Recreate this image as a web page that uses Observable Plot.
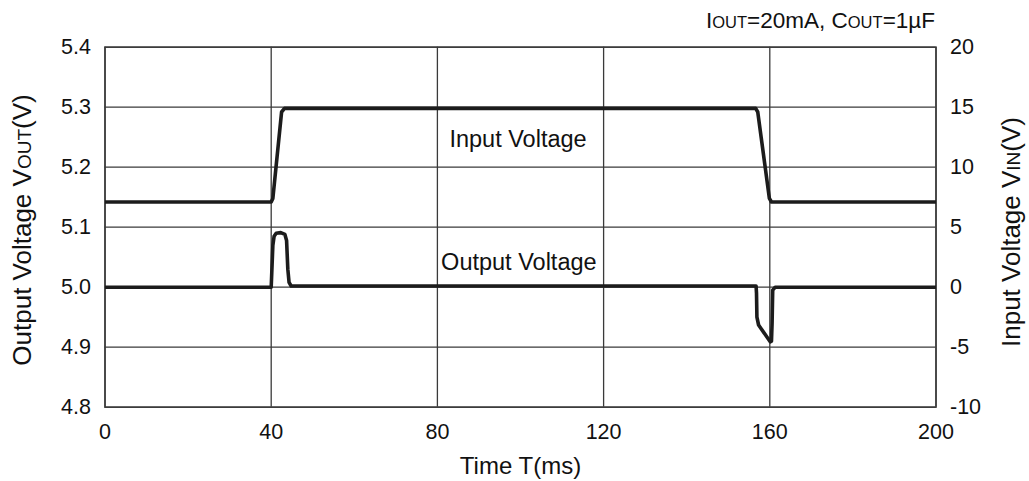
<!DOCTYPE html>
<html>
<head>
<meta charset="utf-8">
<script src="https://cdn.jsdelivr.net/npm/d3@7"></script>
<script src="https://cdn.jsdelivr.net/npm/@observablehq/plot@0.6"></script>
<style>
  html, body { margin: 0; padding: 0; background: #fff; }
  #chart { width: 1029px; height: 481px; }
  svg { font-family: "Liberation Sans", Arial, sans-serif; }
</style>
</head>
<body>
<div id="chart"></div>
<script>
// ---- Data ----
// Input voltage VIN (V) vs time (ms)
const inTime = [0, 40, 40.4, 42.5, 43.2, 156.6, 157.1, 159.9, 160.4, 200];
const inVolt = [7.1, 7.1, 7.4, 14.6, 14.9, 14.9, 14.6, 7.4, 7.1, 7.1];

// Output voltage VOUT (V) vs time (ms)
const outTime = [0, 40, 40.4, 40.7, 41.2, 42.3, 43.3, 43.7, 44.0, 44.3, 44.8, 156.7, 156.8, 156.9, 157.3, 160.1, 160.4, 160.55, 160.7, 161.3, 200];
const outVolt = [5.0, 5.0, 5.07, 5.085, 5.09, 5.091, 5.088, 5.078, 5.03, 5.008, 5.002, 5.002, 4.99, 4.95, 4.937, 4.909, 4.91, 4.94, 4.995, 5.0, 5.0];

// Axis ticks
const xTicks = [0, 40, 80, 120, 160, 200];
const yTicks = [4.8, 4.9, 5.0, 5.1, 5.2, 5.3, 5.4];
const vinTickLabels = [-10, -5, 0, 5, 10, 15, 20];

// Labels
const annotations = [
  {t: 99.4, v: 5.2467, text: "Input Voltage"},
  {t: 99.6, v: 5.0417, text: "Output Voltage"}
];

// VIN maps onto VOUT axis: VOUT = 5.0 + VIN/50
const vinToY = v => 5.0 + v / 50;

const inData = inTime.map((t, i) => ({t, vin: inVolt[i]}));
const outData = outTime.map((t, i) => ({t, vout: outVolt[i]}));

const ink = "#1c1c1c";
const gridColor = "#3a3a3a";

const chart = Plot.plot({
  width: 1029,
  height: 481,
  marginLeft: 104.5,
  marginRight: 93.5,
  marginTop: 46.7,
  marginBottom: 74.3,
  style: {fontFamily: "'Liberation Sans', Arial, sans-serif", background: "#fff", color: "#111"},
  x: {domain: [0, 200], ticks: xTicks},
  y: {domain: [4.8, 5.4], ticks: yTicks},
  marks: [
    Plot.gridX(xTicks, {stroke: gridColor, strokeOpacity: 1, strokeWidth: 1.3}),
    Plot.gridY(yTicks, {stroke: gridColor, strokeOpacity: 1, strokeWidth: 1.3}),
    Plot.frame({stroke: gridColor, strokeWidth: 1.5}),
    Plot.axisX({ticks: xTicks, tickSize: 0, tickPadding: 17, fontSize: 21.5, label: null, tickFormat: d => String(d)}),
    Plot.axisY({anchor: "left", ticks: yTicks, tickSize: 0, tickPadding: 14, fontSize: 21.5, label: null, tickFormat: d3.format(".1f")}),
    Plot.axisY({anchor: "right", ticks: yTicks, tickSize: 0, tickPadding: 14, fontSize: 21.5, label: null,
      tickFormat: (d, i) => String(vinTickLabels[i])}),
    Plot.line(inData, {x: "t", y: d => vinToY(d.vin), stroke: ink, strokeWidth: 3.6, strokeLinejoin: "round", strokeLinecap: "butt"}),
    Plot.line(outData, {x: "t", y: "vout", stroke: ink, strokeWidth: 3.6, strokeLinejoin: "round", strokeLinecap: "butt"}),
    Plot.text(annotations, {x: "t", y: "v", text: "text", fontSize: 23.5, fill: "#111", lineAnchor: "middle"}),
    Plot.text(["Time T(ms)"], {frameAnchor: "bottom", dy: 59.5, fontSize: 24, fill: "#111", lineAnchor: "middle"})
  ]
});

document.getElementById("chart").appendChild(chart);

// Labels with small-caps style subscripts
const svg = d3.select(chart);
function richText(parts, attrs) {
  const t = svg.append("text").attr("fill", "#111").attr("font-family", "'Liberation Sans', Arial, sans-serif");
  Object.entries(attrs).forEach(([k, v]) => t.attr(k, v));
  parts.forEach(([s, size]) => t.append("tspan").attr("font-size", size).text(s));
  return t;
}
richText([["Output Voltage V", 26], ["OUT", 19], ["(V)", 26]],
  {transform: "translate(30.5,230) rotate(-90)", "text-anchor": "middle"});
richText([["Input Voltage V", 26], ["IN", 19], ["(V)", 26]],
  {transform: "translate(1020,232) rotate(-90)", "text-anchor": "middle"});
richText([["I", 22.5], ["OUT", 16.5], ["=20mA, C", 22.5], ["OUT", 16.5], ["=1\u00B5F", 22.5]],
  {transform: "translate(935,28)", "text-anchor": "end"});
</script>
</body>
</html>
